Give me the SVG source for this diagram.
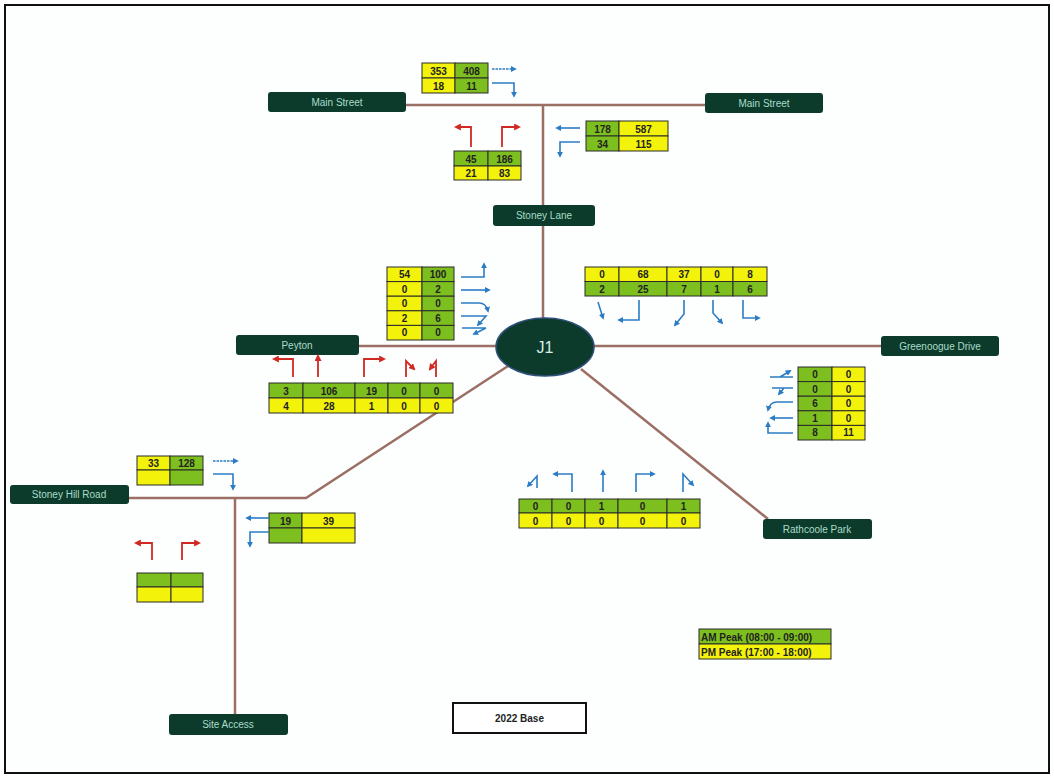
<svg xmlns="http://www.w3.org/2000/svg" width="1054" height="778" viewBox="0 0 1054 778">
<style>
.road{stroke:#9c6f64;stroke-width:2.5;fill:none}
.node rect{fill:#0c3b2b}
.node text{fill:#a9dcc9;font-family:"Liberation Sans",Arial,sans-serif;font-size:10px;text-anchor:middle}
.g{fill:#7dbf1e;stroke:#2a2a2a;stroke-width:1}
.y{fill:#f3f20a;stroke:#2a2a2a;stroke-width:1}
.t{font-family:"Liberation Sans",Arial,sans-serif;font-size:10px;font-weight:bold;fill:#222;text-anchor:middle}
.ab{stroke:#2b7cc4;stroke-width:1.6;fill:none;marker-end:url(#mb)}
.ar{stroke:#d02a22;stroke-width:1.8;fill:none;marker-end:url(#mr)}
.lg{font-family:"Liberation Sans",Arial,sans-serif;font-size:10px;font-weight:bold;fill:#222}
</style>
<defs>
<marker id="mb" viewBox="0 0 10 10" refX="7" refY="5" markerWidth="6" markerHeight="6" markerUnits="userSpaceOnUse" orient="auto"><path d="M0,0 L10,5 L0,10z" fill="#2b7cc4"/></marker>
<marker id="mr" viewBox="0 0 10 10" refX="7" refY="5" markerWidth="7" markerHeight="7" markerUnits="userSpaceOnUse" orient="auto"><path d="M0,0 L10,5 L0,10z" fill="#d02a22"/></marker>
</defs>
<rect x="0" y="0" width="1054" height="778" fill="#ffffff"/>
<rect x="5" y="5" width="1044" height="768" fill="#fdfefe" stroke="#111" stroke-width="2"/>

<g id="connectors">
<path class="road" d="M406,105 H706"/>
<path class="road" d="M543,105 V318"/>
<path class="road" d="M359,346 H497"/>
<path class="road" d="M593,346 H881"/>
<path class="road" d="M581,369 L768,519"/>
<path class="road" d="M508,366 L306,498 H129"/>
<path class="road" d="M235,498 V714"/>
</g>

<g id="node-main-street-w" class="node"><rect x="268" y="92" width="138" height="20" rx="3"/><text x="337" y="106">Main Street</text></g>
<g id="node-main-street-e" class="node"><rect x="705" y="93" width="118" height="20" rx="3"/><text x="764" y="107">Main Street</text></g>
<g id="node-stoney-lane" class="node"><rect x="493" y="205" width="102" height="21" rx="3"/><text x="544" y="219">Stoney Lane</text></g>
<g id="node-peyton" class="node"><rect x="236" y="335" width="123" height="20" rx="3"/><text x="297" y="349">Peyton</text></g>
<g id="node-greenoogue" class="node"><rect x="881" y="336" width="118" height="20" rx="3"/><text x="940" y="350">Greenoogue Drive</text></g>
<g id="node-rathcoole" class="node"><rect x="763" y="519" width="109" height="20" rx="3"/><text x="817" y="533">Rathcoole Park</text></g>
<g id="node-stoney-hill" class="node"><rect x="10" y="485" width="119" height="19" rx="3"/><text x="69" y="498">Stoney Hill Road</text></g>
<g id="node-site-access" class="node"><rect x="169" y="714" width="119" height="21" rx="3"/><text x="228" y="728">Site Access</text></g>
<g id="node-j1"><ellipse cx="545" cy="347" rx="49" ry="29" fill="#0c3b2b" stroke="#2d4f78" stroke-width="1.5"/><text x="545" y="353" fill="#d8efe6" font-family="Liberation Sans,Arial,sans-serif" font-size="16" text-anchor="middle">J1</text></g>

<g id="table-main-w">
<rect class="y" x="422" y="63" width="33" height="15"/><rect class="g" x="455" y="63" width="33" height="15"/>
<rect class="y" x="422" y="78" width="33" height="15"/><rect class="g" x="455" y="78" width="33" height="15"/>
<text class="t" x="438.5" y="74.5">353</text><text class="t" x="471.5" y="74.5">408</text>
<text class="t" x="438.5" y="89.5">18</text><text class="t" x="471.5" y="89.5">11</text>
<path class="ab" d="M492,69 H515" stroke-dasharray="2.5,1"/>
<path class="ab" d="M492,83 H514 V96"/>
</g>

<g id="table-stoney-lane">
<rect class="g" x="454" y="151" width="34" height="15"/><rect class="g" x="488" y="151" width="33" height="15"/>
<rect class="y" x="454" y="166" width="34" height="14"/><rect class="y" x="488" y="166" width="33" height="14"/>
<text class="t" x="471" y="162.5">45</text><text class="t" x="504.5" y="162.5">186</text>
<text class="t" x="471" y="177">21</text><text class="t" x="504.5" y="177">83</text>
<path class="ar" d="M471,147 V127 H456"/>
<path class="ar" d="M502,147 V127 H519"/>
</g>

<g id="table-main-e">
<rect class="g" x="586" y="121" width="33" height="15"/><rect class="y" x="619" y="121" width="49" height="15"/>
<rect class="g" x="586" y="136" width="33" height="15"/><rect class="y" x="619" y="136" width="49" height="15"/>
<text class="t" x="602.5" y="132.5">178</text><text class="t" x="643.5" y="132.5">587</text>
<text class="t" x="602.5" y="147.5">34</text><text class="t" x="643.5" y="147.5">115</text>
<path class="ab" d="M580,128 H557"/>
<path class="ab" d="M580,142 H560 V156"/>
</g>

<g id="table-peyton-in">
<rect class="y" x="387" y="267" width="35" height="14.6"/><rect class="g" x="422" y="267" width="32" height="14.6"/>
<rect class="y" x="387" y="281.6" width="35" height="14.6"/><rect class="g" x="422" y="281.6" width="32" height="14.6"/>
<rect class="y" x="387" y="296.2" width="35" height="14.6"/><rect class="g" x="422" y="296.2" width="32" height="14.6"/>
<rect class="y" x="387" y="310.8" width="35" height="14.6"/><rect class="g" x="422" y="310.8" width="32" height="14.6"/>
<rect class="y" x="387" y="325.4" width="35" height="14.6"/><rect class="g" x="422" y="325.4" width="32" height="14.6"/>
<text class="t" x="404.5" y="278">54</text><text class="t" x="438" y="278">100</text>
<text class="t" x="404.5" y="292.6">0</text><text class="t" x="438" y="292.6">2</text>
<text class="t" x="404.5" y="307.2">0</text><text class="t" x="438" y="307.2">0</text>
<text class="t" x="404.5" y="321.8">2</text><text class="t" x="438" y="321.8">6</text>
<text class="t" x="404.5" y="336.4">0</text><text class="t" x="438" y="336.4">0</text>
<path class="ab" d="M461,277 H484 V264"/>
<path class="ab" d="M461,290 H489"/>
<path class="ab" d="M461,303 H479 Q486,303 488,311"/>
<path class="ab" d="M461,316 H486 L478,325"/>
<path class="ab" d="M486,328 H462 M486,328 L474,334"/>
</g>

<g id="table-peyton-out">
<rect class="g" x="269" y="383" width="34" height="15"/><rect class="g" x="303" y="383" width="52" height="15"/><rect class="g" x="355" y="383" width="33" height="15"/><rect class="g" x="388" y="383" width="32" height="15"/><rect class="g" x="420" y="383" width="33" height="15"/>
<rect class="y" x="269" y="398" width="34" height="15"/><rect class="y" x="303" y="398" width="52" height="15"/><rect class="y" x="355" y="398" width="33" height="15"/><rect class="y" x="388" y="398" width="32" height="15"/><rect class="y" x="420" y="398" width="33" height="15"/>
<text class="t" x="286" y="394.5">3</text><text class="t" x="329" y="394.5">106</text><text class="t" x="371.5" y="394.5">19</text><text class="t" x="404" y="394.5">0</text><text class="t" x="436.5" y="394.5">0</text>
<text class="t" x="286" y="409.5">4</text><text class="t" x="329" y="409.5">28</text><text class="t" x="371.5" y="409.5">1</text><text class="t" x="404" y="409.5">0</text><text class="t" x="436.5" y="409.5">0</text>
<path class="ar" d="M293,377 V359 H274"/>
<path class="ar" d="M318,377 V356"/>
<path class="ar" d="M364,377 V359 H384"/>
<path class="ar" d="M406,377 V361 L414,369"/>
<path class="ar" d="M436,377 V361 L430,369"/>
</g>

<g id="table-stoney-lane-in">
<rect class="y" x="585" y="267" width="34" height="14.5"/><rect class="y" x="619" y="267" width="48" height="14.5"/><rect class="y" x="667" y="267" width="34" height="14.5"/><rect class="y" x="701" y="267" width="32" height="14.5"/><rect class="y" x="733" y="267" width="34" height="14.5"/>
<rect class="g" x="585" y="281.5" width="34" height="14.5"/><rect class="g" x="619" y="281.5" width="48" height="14.5"/><rect class="g" x="667" y="281.5" width="34" height="14.5"/><rect class="g" x="701" y="281.5" width="32" height="14.5"/><rect class="g" x="733" y="281.5" width="34" height="14.5"/>
<text class="t" x="602" y="278">0</text><text class="t" x="643" y="278">68</text><text class="t" x="684" y="278">37</text><text class="t" x="717" y="278">0</text><text class="t" x="750" y="278">8</text>
<text class="t" x="602" y="292.5">2</text><text class="t" x="643" y="292.5">25</text><text class="t" x="684" y="292.5">7</text><text class="t" x="717" y="292.5">1</text><text class="t" x="750" y="292.5">6</text>
<path class="ab" d="M598,302 L603,318"/>
<path class="ab" d="M639,300 V320 H619"/>
<path class="ab" d="M684,300 V314 L675,325"/>
<path class="ab" d="M713,300 V313 L722,323"/>
<path class="ab" d="M743,300 V318 H759"/>
</g>

<g id="table-greenoogue">
<rect class="g" x="798" y="367" width="34" height="14.6"/><rect class="y" x="832" y="367" width="33" height="14.6"/>
<rect class="g" x="798" y="381.6" width="34" height="14.6"/><rect class="y" x="832" y="381.6" width="33" height="14.6"/>
<rect class="g" x="798" y="396.2" width="34" height="14.6"/><rect class="y" x="832" y="396.2" width="33" height="14.6"/>
<rect class="g" x="798" y="410.8" width="34" height="14.6"/><rect class="y" x="832" y="410.8" width="33" height="14.6"/>
<rect class="g" x="798" y="425.4" width="34" height="14.6"/><rect class="y" x="832" y="425.4" width="33" height="14.6"/>
<text class="t" x="815" y="378">0</text><text class="t" x="848.5" y="378">0</text>
<text class="t" x="815" y="392.6">0</text><text class="t" x="848.5" y="392.6">0</text>
<text class="t" x="815" y="407.2">6</text><text class="t" x="848.5" y="407.2">0</text>
<text class="t" x="815" y="421.8">1</text><text class="t" x="848.5" y="421.8">0</text>
<text class="t" x="815" y="436.4">8</text><text class="t" x="848.5" y="436.4">11</text>
<path class="ab" d="M793,377 H770 M780,377 L790,371"/>
<path class="ab" d="M793,388 H772 M784,388 L779,394"/>
<path class="ab" d="M793,402 H777 Q770,402 768,410"/>
<path class="ab" d="M793,418 H771"/>
<path class="ab" d="M793,433 H768 V423"/>
</g>

<g id="table-rathcoole">
<rect class="g" x="519" y="499" width="33" height="14"/><rect class="g" x="552" y="499" width="33" height="14"/><rect class="g" x="585" y="499" width="33" height="14"/><rect class="g" x="618" y="499" width="49" height="14"/><rect class="g" x="667" y="499" width="33" height="14"/>
<rect class="y" x="519" y="513" width="33" height="15"/><rect class="y" x="552" y="513" width="33" height="15"/><rect class="y" x="585" y="513" width="33" height="15"/><rect class="y" x="618" y="513" width="49" height="15"/><rect class="y" x="667" y="513" width="33" height="15"/>
<text class="t" x="535.5" y="510">0</text><text class="t" x="568.5" y="510">0</text><text class="t" x="601.5" y="510">1</text><text class="t" x="642.5" y="510">0</text><text class="t" x="683.5" y="510">1</text>
<text class="t" x="535.5" y="524.5">0</text><text class="t" x="568.5" y="524.5">0</text><text class="t" x="601.5" y="524.5">0</text><text class="t" x="642.5" y="524.5">0</text><text class="t" x="683.5" y="524.5">0</text>
<path class="ab" d="M537,488 V476 L528,486"/>
<path class="ab" d="M572,492 V474 H554"/>
<path class="ab" d="M603,492 V471"/>
<path class="ab" d="M636,492 V474 H654"/>
<path class="ab" d="M683,492 V474 L693,485"/>
</g>

<g id="table-stoney-hill">
<rect class="y" x="137" y="456" width="33" height="14"/><rect class="g" x="170" y="456" width="33" height="14"/>
<rect class="y" x="137" y="470" width="33" height="15"/><rect class="g" x="170" y="470" width="33" height="15"/>
<text class="t" x="153.5" y="467">33</text><text class="t" x="186.5" y="467">128</text>
<path class="ab" d="M213,461 H237" stroke-dasharray="2.5,1"/>
<path class="ab" d="M213,474 H233 V489"/>
</g>

<g id="table-site-access-in">
<rect class="g" x="269" y="513" width="33" height="15"/><rect class="y" x="302" y="513" width="53" height="15"/>
<rect class="g" x="269" y="528" width="33" height="15"/><rect class="y" x="302" y="528" width="53" height="15"/>
<text class="t" x="285.5" y="524.5">19</text><text class="t" x="328.5" y="524.5">39</text>
<path class="ab" d="M269,518 H247"/>
<path class="ab" d="M269,532 H250 V546"/>
</g>

<g id="table-site-access-out">
<rect class="g" x="137" y="573" width="34" height="14"/><rect class="g" x="171" y="573" width="32" height="14"/>
<rect class="y" x="137" y="587" width="34" height="15"/><rect class="y" x="171" y="587" width="32" height="15"/>
<path class="ar" d="M152,560 V543 H136"/>
<path class="ar" d="M182,560 V543 H199"/>
</g>

<g id="legend">
<rect class="g" x="699" y="629" width="132" height="15"/>
<rect class="y" x="699" y="644" width="132" height="15"/>
<text class="lg" x="701" y="640.5">AM Peak (08:00 - 09:00)</text>
<text class="lg" x="701" y="655.5">PM Peak (17:00 - 18:00)</text>
</g>

<g id="title">
<rect x="453" y="703" width="133" height="30" fill="#ffffff" stroke="#111" stroke-width="2"/>
<text class="t" x="519.5" y="721.5">2022 Base</text>
</g>
</svg>
